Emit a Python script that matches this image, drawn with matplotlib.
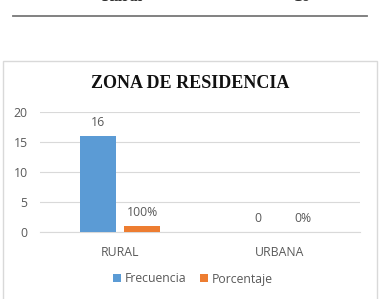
import matplotlib.pyplot as plt
from matplotlib.patches import Rectangle
from matplotlib.lines import Line2D
import numpy as np

categories = ['RURAL', 'URBANA']
frecuencia = [16, 0]
porcentaje = [1, 0]
frec_labels = ['16', '0']
porc_labels = ['100%', '0%']
yticks = [0, 5, 10, 15, 20]

W, H = 381, 299
fig = plt.figure(figsize=(W / 100, H / 100), dpi=100)

# -- table fragment above the chart (cut off at the top, like the page scan)
fig.text(122 / W, 1 - 1 / H, 'Rural', family='Liberation Serif', weight='bold',
         fontsize=12, ha='center', va='baseline', color='#333333')
fig.text(302 / W, 1 - 1 / H, '16', family='Liberation Serif', weight='bold',
         fontsize=12, ha='center', va='baseline', color='#333333')
fig.add_artist(Line2D([13 / W, 367 / W], [1 - 16 / H, 1 - 16 / H],
                      color='#777777', lw=1.3, transform=fig.transFigure))

# -- chart border
fig.add_artist(Rectangle((3 / W, -0.05), 373.5 / W, 1 - 61 / H + 0.05,
                         transform=fig.transFigure, fill=False,
                         edgecolor='#D9D9D9', lw=1))

ax = fig.add_axes([40 / W, (H - 232) / H, 320 / W, 120 / H])
x = np.arange(len(categories))
w = 0.225
off = 0.1405
blue = '#5B9BD5'
orange = '#ED7D31'
font = 'Open Sans'
gray = '#595959'
fs = 8.8

ax.bar(x - off, frecuencia, w, color=blue, zorder=3, label='Frecuencia')
ax.bar(x + off, porcentaje, w, color=orange, zorder=3, label='Porcentaje')

for i in range(len(categories)):
    ax.text(x[i] - off, frecuencia[i] + 1.2, frec_labels[i], ha='center', va='bottom',
            fontsize=fs, color=gray, family=font)
    ax.text(x[i] + off, porcentaje[i] + 1.2, porc_labels[i], ha='center', va='bottom',
            fontsize=fs, color=gray, family=font)

ax.set_xlim(-0.5, 1.5)
ax.set_ylim(0, 20)
ax.set_yticks(yticks)
ax.set_xticks(x)
ax.set_xticklabels(categories)
ax.grid(axis='y', color='#D9D9D9', lw=0.8, zorder=0)
for s in ['top', 'right', 'left']:
    ax.spines[s].set_visible(False)
ax.spines['bottom'].set_color('#D9D9D9')
ax.tick_params(length=0, labelsize=fs, labelcolor=gray, pad=10)
ax.tick_params(axis='y', pad=9)
for t in ax.get_xticklabels() + ax.get_yticklabels():
    t.set_family(font)

fig.text(190 / W, 1 - 84 / H, 'ZONA DE RESIDENCIA', family='Liberation Serif',
         weight='bold', fontsize=13, ha='center', va='center', color='#111111')

leg = fig.legend(loc='center', bbox_to_anchor=(193 / W, 1 - 279 / H), ncol=2,
                 frameon=False, prop={'family': font, 'size': fs},
                 handlelength=0.65, handleheight=0.65, handletextpad=0.3,
                 columnspacing=1.1)
for t in leg.get_texts():
    t.set_color(gray)

fig.savefig('out.png', dpi=100)
